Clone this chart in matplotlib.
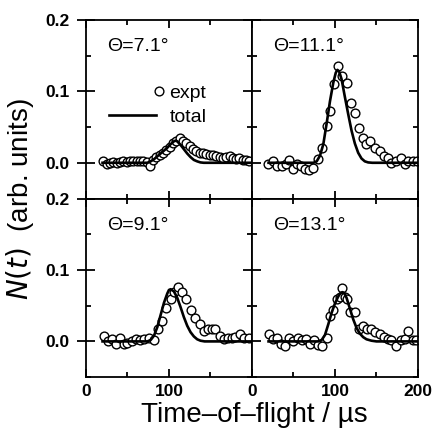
import matplotlib
matplotlib.use("Agg")
import matplotlib.pyplot as plt
from matplotlib.lines import Line2D
from matplotlib.legend_handler import HandlerLine2D
from matplotlib.ticker import MultipleLocator

plt.rcParams['font.family'] = ['Liberation Sans', 'DejaVu Sans']

# panel labels, in grid order (top-left, top-right, bottom-left, bottom-right)
angles = ["7.1", "11.1", "9.1", "13.1"]

# experimental points (time-of-flight in us, N(t))
t_71 = [21, 25, 29, 33, 37, 41, 45, 49, 53, 57, 61, 65, 69, 73, 77, 81, 85, 89, 93,
        97, 101, 105, 109, 113, 117, 121, 125, 129, 133, 137, 141, 145, 149, 153,
        157, 161, 165, 169, 173, 177, 181, 185, 189, 193, 197]
n_71 = [0.002, -0.002, 0.0, 0.001, 0.0, 0.001, 0.002, 0.001, 0.002, 0.003, 0.003,
        0.002, 0.002, 0.001, -0.004, 0.004, 0.008, 0.011, 0.014, 0.018, 0.022, 0.027,
        0.031, 0.034, 0.031, 0.027, 0.024, 0.019, 0.016, 0.013, 0.013, 0.012, 0.011,
        0.011, 0.009, 0.008, 0.006, 0.008, 0.009, 0.006, 0.005, 0.006, 0.004, 0.004,
        0.003]

t_111 = [19, 25, 30, 36, 41, 45, 50, 54, 59, 64, 69, 74, 80, 85, 90, 94, 99, 104, 109,
         114, 119, 124, 129, 134, 138, 142, 148, 154, 159, 164, 168, 174, 179, 184,
         188, 194, 199]
n_111 = [-0.002, 0.003, -0.004, -0.004, -0.002, 0.004, -0.009, -0.002, -0.004, -0.009,
         -0.010, -0.007, 0.005, 0.021, 0.051, 0.073, 0.110, 0.136, 0.121, 0.112, 0.084,
         0.069, 0.048, 0.034, 0.026, 0.030, 0.021, 0.017, 0.010, 0.007, -0.001, 0.003,
         0.006, -0.002, 0.002, 0.003, 0.002]

t_91 = [22, 26, 32, 36, 41, 46, 50, 55, 60, 65, 70, 76, 82, 87, 92, 97, 102, 106, 111,
        116, 121, 126, 131, 137, 142, 147, 152, 156, 161, 166, 171, 176, 180, 186, 191,
        196]
n_91 = [0.008, 0.000, 0.004, -0.003, 0.005, -0.003, -0.002, 0.000, 0.003, 0.002, 0.004,
        0.005, 0.002, 0.017, 0.029, 0.047, 0.059, 0.069, 0.076, 0.069, 0.059, 0.044,
        0.033, 0.024, 0.015, 0.018, 0.017, 0.018, 0.008, 0.004, 0.005, 0.005, 0.006,
        0.010, 0.005, 0.005]

t_131 = [20, 25, 30, 35, 40, 45, 50, 55, 60, 65, 70, 75, 80, 85, 90, 94, 98, 103, 106,
         109, 112, 114, 118, 124, 129, 134, 139, 144, 148, 154, 159, 164, 168, 174,
         179, 184, 188, 194, 198]
n_131 = [0.010, 0.004, 0.005, -0.003, -0.006, 0.005, 0.000, 0.005, 0.002, 0.003,
         -0.003, 0.002, -0.005, -0.006, 0.005, 0.036, 0.044, 0.059, 0.062, 0.075, 0.062,
         0.059, 0.041, 0.041, 0.017, 0.022, 0.018, 0.017, 0.013, 0.010, 0.006, 0.004,
         0.002, -0.006, 0.002, 0.003, 0.014, 0.002, 0.002]

# calculated total signal
tc_71 = [20, 74, 78, 82, 86, 90, 94, 98, 102, 106, 108, 110, 114, 118, 122, 126, 130,
         134, 138, 142, 200]
nc_71 = [0, 0, 0.002, 0.005, 0.009, 0.013, 0.017, 0.021, 0.026, 0.030, 0.031, 0.030,
         0.025, 0.019, 0.013, 0.008, 0.004, 0.002, 0.0005, 0, 0]

tc_111 = [20, 74, 78, 82, 86, 90, 94, 98, 101, 103, 105, 108, 112, 116, 120, 124, 128,
          132, 136, 140, 145, 200]
nc_111 = [0, 0, 0.002, 0.010, 0.026, 0.055, 0.086, 0.112, 0.126, 0.130, 0.128, 0.117,
          0.092, 0.068, 0.045, 0.027, 0.014, 0.006, 0.002, 0.0005, 0, 0]

tc_91 = [20, 74, 78, 82, 86, 90, 94, 98, 100, 102, 106, 110, 114, 118, 122, 126, 130,
         134, 138, 143, 200]
nc_91 = [0, 0, 0.002, 0.008, 0.020, 0.037, 0.054, 0.067, 0.072, 0.073, 0.070, 0.061,
         0.048, 0.034, 0.022, 0.013, 0.007, 0.003, 0.001, 0, 0]

tc_131 = [20, 80, 84, 88, 92, 96, 100, 104, 107, 109, 111, 114, 118, 122, 126, 130, 134,
          138, 144, 150, 200]
nc_131 = [0, 0, 0.002, 0.009, 0.024, 0.040, 0.053, 0.063, 0.068, 0.069, 0.068, 0.061,
          0.046, 0.031, 0.019, 0.011, 0.006, 0.003, 0.001, 0, 0]

expt = [(t_71, n_71), (t_111, n_111), (t_91, n_91), (t_131, n_131)]
calc = [(tc_71, nc_71), (tc_111, nc_111), (tc_91, nc_91), (tc_131, nc_131)]


class RightMarkerHandler(HandlerLine2D):
    # legend circle sits just past the right end of the handle box
    def get_xdata(self, legend, xdescent, ydescent, width, height, fontsize):
        xm = -xdescent + width + 0.15 * fontsize
        return [xm - 1, xm + 1], [xm]


fig, axes = plt.subplots(2, 2, figsize=(4.34, 4.32), dpi=100)
fig.subplots_adjust(left=0.198, right=0.963, bottom=0.127, top=0.954,
                    wspace=0, hspace=0)

for i, ax in enumerate(axes.flat):
    row, col = divmod(i, 2)
    ax.plot(expt[i][0], expt[i][1], 'o', ms=6.3, mfc='white', mec='black', mew=1.0,
            zorder=2)
    ax.plot(calc[i][0], calc[i][1], '-', color='black', lw=1.9, zorder=3)
    ax.set_xlim(0, 200)
    ax.set_ylim(-0.05, 0.2)
    ax.xaxis.set_major_locator(MultipleLocator(100))
    ax.xaxis.set_minor_locator(MultipleLocator(50))
    ax.yaxis.set_major_locator(MultipleLocator(0.1))
    ax.yaxis.set_minor_locator(MultipleLocator(0.05))
    for s in ax.spines.values():
        s.set_linewidth(1.3)
    ax.tick_params(axis='x', which='both', direction='in', top=True, bottom=True,
                   width=1.3, labelsize=12.5, pad=5)
    ax.tick_params(axis='x', which='major', length=6)
    ax.tick_params(axis='x', which='minor', length=3.8)
    ax.tick_params(axis='y', which='both', left=True, right=True, width=1.3,
                   labelsize=12.5, pad=5)
    ax.tick_params(axis='y', which='minor', direction='in', length=3.8)
    if col == 0:
        ax.tick_params(axis='y', which='major', direction='inout', length=13)
    else:
        ax.tick_params(axis='y', which='major', direction='in', length=6.5)
        ax.tick_params(axis='y', labelleft=False)
    if row == 0:
        ax.tick_params(axis='x', labelbottom=False)
    else:
        ax.set_xticks([0, 100, 200])
        if col == 0:
            ax.set_xticklabels(['0', '100', ''])
        else:
            ax.set_xticklabels(['0', '100', '200'])
    ax.set_yticks([0, 0.1, 0.2])
    ax.set_yticklabels(['0.0', '0.1', '0.2'])
    for lab in ax.get_xticklabels() + ax.get_yticklabels():
        lab.set_fontweight('bold')
    ax.text(0.13, 0.85, "\u0398=" + angles[i] + "\u00b0", transform=ax.transAxes,
            fontsize=14, ha='left', va='center')

h_expt = Line2D([], [], ls='none', marker='o', ms=6.3, mfc='white', mec='black', mew=1.0)
h_total = Line2D([], [], color='black', lw=1.9)
axes[0, 0].legend([h_expt, h_total], ['expt', 'total'], loc='upper left',
                  bbox_to_anchor=(0.14, 0.64), frameon=False, fontsize=14,
                  handlelength=2.4, handletextpad=0.7, labelspacing=0.35,
                  borderpad=0, borderaxespad=0,
                  handler_map={h_expt: RightMarkerHandler(numpoints=1)})

fig.text(0.045, 0.54, "$N(t)$  (arb. units)", rotation=90, ha='center', va='center',
         fontsize=20)
fig.text(0.585, 0.04, "Time\u2013of\u2013flight / \u00b5s", ha='center', va='center',
         fontsize=20)

fig.savefig("out.png", dpi=100)
